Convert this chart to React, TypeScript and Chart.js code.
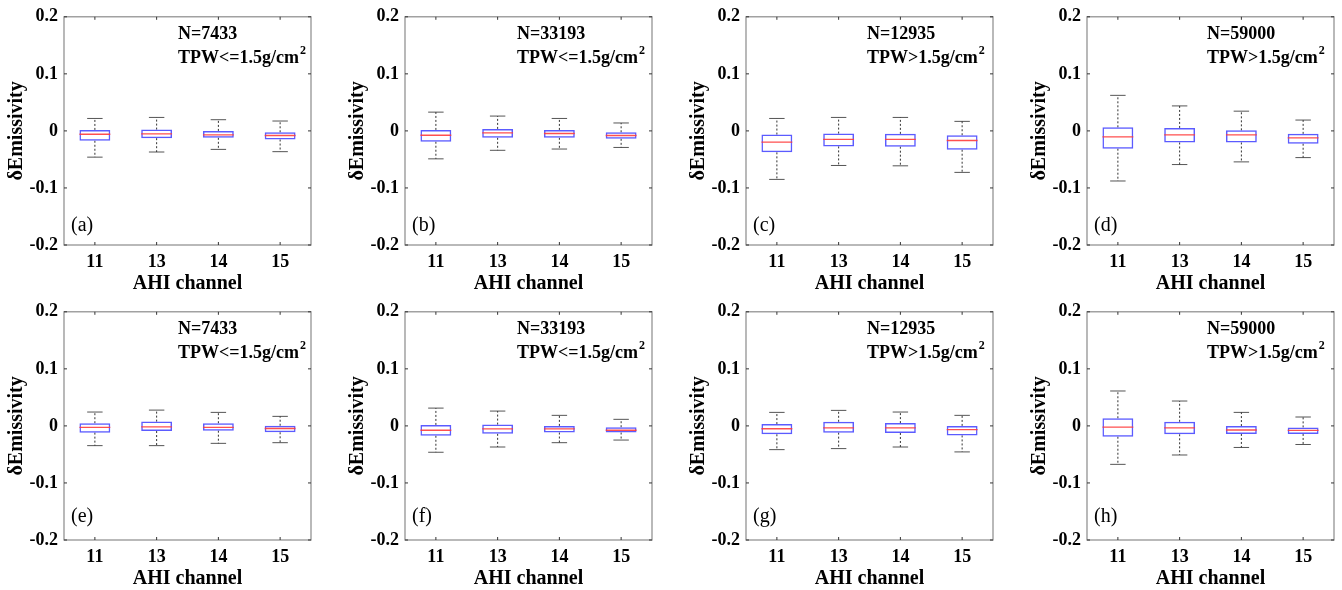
import React, { useEffect, useRef } from 'react';
import { Chart, registerables } from 'chart.js';

Chart.register(...registerables);

const FONT = '"Liberation Serif", "Times New Roman", serif';

const channels = ['11', '13', '14', '15'];
const yTicks = [-0.2, -0.1, 0, 0.1, 0.2];
const yTickLabels = ['-0.2', '-0.1', '0', '0.1', '0.2'];

const panelLetters = ['(a)', '(b)', '(c)', '(d)', '(e)', '(f)', '(g)', '(h)'];
const sampleSizes = ['N=7433', 'N=33193', 'N=12935', 'N=59000', 'N=7433', 'N=33193', 'N=12935', 'N=59000'];
const tpwLabels = ['TPW<=1.5g/cm', 'TPW<=1.5g/cm', 'TPW>1.5g/cm', 'TPW>1.5g/cm', 'TPW<=1.5g/cm', 'TPW<=1.5g/cm', 'TPW>1.5g/cm', 'TPW>1.5g/cm'];

// Panel (a)
const aHigh = [0.0218, 0.0236, 0.0196, 0.0173];
const aQ3 = [0.0017, 0.0023, 0.0, -0.0024];
const aMed = [-0.0059, -0.0052, -0.0069, -0.0081];
const aQ1 = [-0.0173, -0.0128, -0.0121, -0.0151];
const aLow = [-0.046, -0.037, -0.0324, -0.0364];
// Panel (b)
const bHigh = [0.0329, 0.026, 0.0218, 0.0139];
const bQ3 = [0.0017, 0.0035, 0.0017, -0.0024];
const bMed = [-0.0076, -0.0035, -0.0046, -0.0081];
const bQ1 = [-0.019, -0.0121, -0.0121, -0.0139];
const bLow = [-0.049, -0.034, -0.0318, -0.029];
// Panel (c)
const cHigh = [0.0218, 0.0236, 0.0236, 0.0167];
const cQ3 = [-0.0064, -0.0047, -0.0052, -0.0076];
const cMed = [-0.0197, -0.015, -0.015, -0.0168];
const cQ1 = [-0.0376, -0.0272, -0.0277, -0.033];
const cLow = [-0.085, -0.0606, -0.0612, -0.0727];
// Panel (d)
const dHigh = [0.0623, 0.0438, 0.0346, 0.019];
const dQ3 = [0.0063, 0.0052, 0.001, -0.0052];
const dMed = [-0.0104, -0.0069, -0.0069, -0.0121];
const dQ1 = [-0.0312, -0.0203, -0.0203, -0.0225];
const dLow = [-0.0878, -0.059, -0.0543, -0.0468];
// Panel (e)
const eHigh = [0.0243, 0.0277, 0.0237, 0.0167];
const eQ3 = [0.0047, 0.0075, 0.0047, 0.0003];
const eMed = [-0.0026, -0.0017, -0.0026, -0.0046];
const eQ1 = [-0.0118, -0.009, -0.0084, -0.0112];
const eLow = [-0.0346, -0.0346, -0.0306, -0.0294];
// Panel (f)
const fHigh = [0.0312, 0.026, 0.0185, 0.0115];
const fQ3 = [0.0017, 0.0023, 0.0, -0.0023];
const fMed = [-0.0076, -0.0052, -0.0052, -0.0076];
const fQ1 = [-0.0173, -0.0139, -0.0116, -0.0116];
const fLow = [-0.0462, -0.037, -0.0294, -0.0248];
// Panel (g)
const gHigh = [0.0237, 0.0272, 0.0243, 0.0185];
const gQ3 = [0.0032, 0.0072, 0.0049, 0.0];
const gMed = [-0.005, -0.0035, -0.0035, -0.0064];
const gQ1 = [-0.0147, -0.0118, -0.0124, -0.0167];
const gLow = [-0.0416, -0.0398, -0.037, -0.0456];
// Panel (h)
const hHigh = [0.0612, 0.0436, 0.0237, 0.0156];
const hQ3 = [0.0134, 0.0072, -0.0003, -0.0026];
const hMed = [-0.0023, -0.0035, -0.0072, -0.0078];
const hQ1 = [-0.019, -0.0147, -0.0141, -0.0141];
const hLow = [-0.0674, -0.051, -0.0378, -0.0326];

const panels = [
  { high: aHigh, q3: aQ3, med: aMed, q1: aQ1, low: aLow },
  { high: bHigh, q3: bQ3, med: bMed, q1: bQ1, low: bLow },
  { high: cHigh, q3: cQ3, med: cMed, q1: cQ1, low: cLow },
  { high: dHigh, q3: dQ3, med: dMed, q1: dQ1, low: dLow },
  { high: eHigh, q3: eQ3, med: eMed, q1: eQ1, low: eLow },
  { high: fHigh, q3: fQ3, med: fMed, q1: fQ1, low: fLow },
  { high: gHigh, q3: gQ3, med: gMed, q1: gQ1, low: gLow },
  { high: hHigh, q3: hQ3, med: hMed, q1: hQ1, low: hLow },
];

const CANVAS_W = 320;
const CANVAS_H = 295;
const COL_STEP = 341;
const annotX = [114, 112, 121, 120];
const letterFromBottom = [19, 23];

function Panel({ idx }: { idx: number }) {
  const ref = useRef<HTMLCanvasElement>(null);
  const col = idx % 4;
  const row = Math.floor(idx / 4);

  useEffect(() => {
    const p = panels[idx];
    const boxHalf = 0.25;
    const capHalf = 0.125;

    const boxData = channels.map((_, i) => ({ x: i, y: [p.q1[i], p.q3[i]] }));
    const medianPts: any[] = [];
    const whiskerPts: any[] = [];
    const capPts: any[] = [];
    channels.forEach((_, i) => {
      medianPts.push({ x: i - boxHalf, y: p.med[i] }, { x: i + boxHalf, y: p.med[i] }, { x: i, y: null });
      whiskerPts.push(
        { x: i, y: p.q3[i] }, { x: i, y: p.high[i] }, { x: i, y: null },
        { x: i, y: p.q1[i] }, { x: i, y: p.low[i] }, { x: i, y: null }
      );
      capPts.push(
        { x: i - capHalf, y: p.high[i] }, { x: i + capHalf, y: p.high[i] }, { x: i, y: null },
        { x: i - capHalf, y: p.low[i] }, { x: i + capHalf, y: p.low[i] }, { x: i, y: null }
      );
    });

    const deco = {
      id: 'deco',
      afterDraw(chart: any) {
        const { ctx, chartArea } = chart;
        const { left, right, top, bottom } = chartArea;
        const xs = chart.scales.x;
        const ys = chart.scales.y;
        ctx.save();
        ctx.strokeStyle = '#8a8a8a';
        ctx.lineWidth = 1.2;
        ctx.strokeRect(left, top, right - left, bottom - top);
        ctx.strokeStyle = '#333';
        ctx.lineWidth = 1;
        ctx.beginPath();
        yTicks.forEach((v) => {
          const py = ys.getPixelForValue(v);
          ctx.moveTo(left, py); ctx.lineTo(left + 3, py);
          ctx.moveTo(right, py); ctx.lineTo(right - 3, py);
        });
        channels.forEach((_, i) => {
          const px = xs.getPixelForValue(i);
          ctx.moveTo(px, bottom); ctx.lineTo(px, bottom - 3);
          ctx.moveTo(px, top); ctx.lineTo(px, top + 3);
        });
        ctx.stroke();
        ctx.fillStyle = '#000';
        ctx.textBaseline = 'middle';
        ctx.textAlign = 'left';
        ctx.font = `bold 18px ${FONT}`;
        const ax = left + annotX[col];
        ctx.fillText(sampleSizes[idx], ax, top + 17.5);
        const tpw = tpwLabels[idx];
        ctx.fillText(tpw, ax, top + 41.5);
        const w = ctx.measureText(tpw).width;
        ctx.font = `bold 12px ${FONT}`;
        ctx.fillText('2', ax + w + 1, top + 34.5);
        ctx.font = `20px ${FONT}`;
        ctx.fillText(panelLetters[idx], left + 7, bottom - letterFromBottom[row]);
        ctx.restore();
      },
    };

    const tickFont = { family: FONT, size: 18, weight: 'bold' as const };
    const titleFont = { family: FONT, size: 20, weight: 'bold' as const, lineHeight: 1 };

    const chart = new Chart(ref.current!, {
      type: 'bar',
      data: {
        datasets: [
          {
            type: 'line', data: medianPts, borderColor: 'rgba(255,60,60,0.9)', borderWidth: 1.3,
            pointRadius: 0, spanGaps: false, order: 0,
          } as any,
          {
            type: 'bar', data: boxData, backgroundColor: 'rgba(0,0,0,0)', borderColor: 'rgba(50,50,255,0.8)',
            borderWidth: 1.5, borderSkipped: false, barPercentage: 0.5, categoryPercentage: 1, order: 1,
          } as any,
          {
            type: 'line', data: whiskerPts, borderColor: '#333', borderWidth: 1, borderDash: [2, 2],
            pointRadius: 0, spanGaps: false, order: 2,
          } as any,
          {
            type: 'line', data: capPts, borderColor: '#555', borderWidth: 1,
            pointRadius: 0, spanGaps: false, order: 2,
          } as any,
        ],
      },
      options: {
        responsive: false,
        animation: false,
        events: [],
        layout: { padding: { top: 14, right: CANVAS_W - 311, left: 0, bottom: 0 } },
        plugins: { legend: { display: false }, tooltip: { enabled: false } },
        scales: {
          x: {
            type: 'linear',
            min: -0.5,
            max: 3.5,
            offset: false,
            grid: { display: false, drawTicks: false, offset: false },
            border: { display: false },
            afterBuildTicks: (s: any) => { s.ticks = channels.map((_, i) => ({ value: i })); },
            afterFit: (s: any) => { s.height = 50; },
            ticks: {
              callback: (v: any) => channels[v],
              padding: 6.9, color: '#000', font: tickFont, maxRotation: 0, autoSkip: false,
            },
            title: {
              display: true, text: 'AHI channel', color: '#000', font: titleFont,
              padding: { top: 0, bottom: 0.7 },
            },
          },
          y: {
            type: 'linear',
            min: -0.2,
            max: 0.2,
            grid: { display: false, drawTicks: false },
            border: { display: false },
            afterBuildTicks: (s: any) => { s.ticks = yTicks.map((v) => ({ value: v })); },
            afterFit: (s: any) => { s.width = 64; },
            ticks: {
              callback: (_v: any, i: number) => yTickLabels[i],
              padding: 6, color: '#000', font: tickFont, autoSkip: false,
            },
            title: {
              display: true, text: 'δEmissivity', color: '#000', font: titleFont,
              padding: { top: 6.6, bottom: 0 },
            },
          },
        },
      } as any,
      plugins: [deco],
    });
    return () => chart.destroy();
  }, [idx, col, row]);

  return (
    <canvas
      ref={ref}
      width={CANVAS_W}
      height={CANVAS_H}
      style={{
        position: 'absolute',
        left: col * COL_STEP,
        top: row * CANVAS_H,
        width: CANVAS_W,
        height: CANVAS_H,
      }}
    />
  );
}

export default function App() {
  return (
    <div
      style={{
        position: 'absolute',
        left: 0,
        top: 0,
        width: 1342,
        height: 590,
        overflow: 'hidden',
        background: '#fff',
      }}
    >
      {panels.map((_, i) => (
        <Panel key={i} idx={i} />
      ))}
    </div>
  );
}
